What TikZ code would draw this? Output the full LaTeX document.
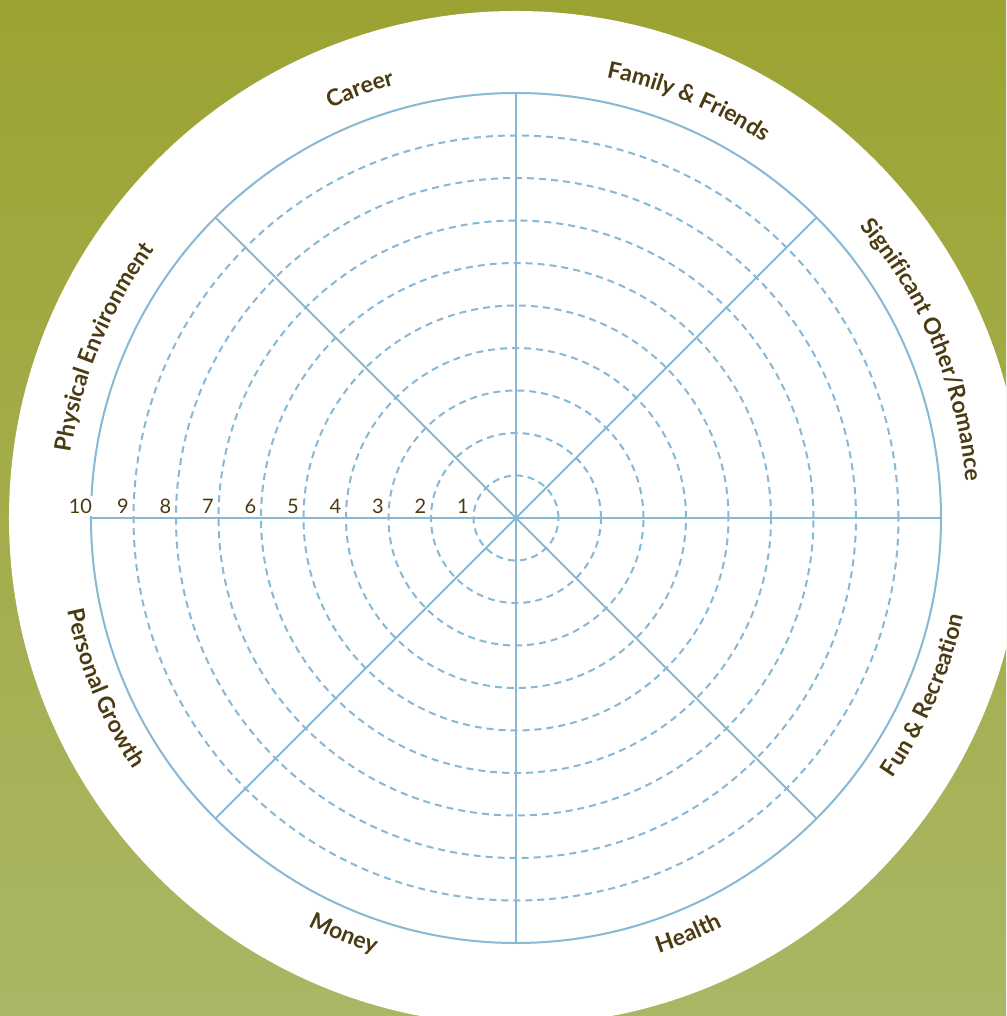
\documentclass[tikz,border=0pt]{standalone}
\usepackage{fontspec}
\setmainfont{Lato}
\usetikzlibrary{decorations.text}
\definecolor{leafgreen}{HTML}{9CA332}
\definecolor{sagegreen}{HTML}{AAB664}
\definecolor{wheelblue}{HTML}{88B8D4}
\definecolor{labelbrown}{HTML}{4B3B12}
\newcommand\arealabel{\fontsize{23}{23}\selectfont\bfseries}
\tikzset{
  spoke/.style={line width=2pt, color=wheelblue},
  ring/.style={line width=2pt, color=wheelblue, dash pattern=on 7pt off 5pt},
  score/.style={fill=white, inner sep=2.5pt, text=labelbrown, font=\fontsize{20}{20}\selectfont},
  arealine/.style={decorate, decoration={text along path, text align=center,
    text color=labelbrown, text={|\arealabel|#1}}}
}

\begin{document}
\begin{tikzpicture}[x=1pt, y=1pt]
\useasboundingbox (-516,-498) rectangle (490,518);
\clip (-516,-498) rectangle (490,518);
\shade[top color=leafgreen, bottom color=sagegreen] (-516,-498) rectangle (490,518);
\fill[white] (0,0) circle (507);
% score rings and spokes
\foreach \k in {1,...,9}
  \draw[ring] (0,0) circle (42.5*\k);
\draw[spoke] (0,0) circle (425);
\foreach \a in {0,45,90,135}
  \draw[spoke] (\a:425) -- (\a+180:425);
% scale numbers
\foreach \k in {1,...,10}
  \node[score] (s\k) at (-42.5*\k-10.5, 12) {\k};
% area names, upper half
\path[arealine={Career}] (145:450) arc[start angle=145, end angle=75, radius=450];
\path[arealine={Family {\&} Friends}] (102.5:450) arc[start angle=102.5, end angle=32.5, radius=450];
\path[arealine={Significant Other/Romance}] (58:451) arc[start angle=58, end angle=-13, radius=451];
\path[arealine={Physical Environment}] (192.5:450) arc[start angle=192.5, end angle=122.5, radius=450];
% area names, lower half
\path[arealine={Fun {\&} Recreation}] (-58.5:458) arc[start angle=-58.5, end angle=11.5, radius=458];
\path[arealine={Health}] (-102.5:458) arc[start angle=-102.5, end angle=-32.5, radius=458];
\path[arealine={Money}] (-147.5:458) arc[start angle=-147.5, end angle=-77.5, radius=458];
\path[arealine={Personal Growth}] (-192.5:458) arc[start angle=-192.5, end angle=-122.5, radius=458];
\end{tikzpicture}
\end{document}
